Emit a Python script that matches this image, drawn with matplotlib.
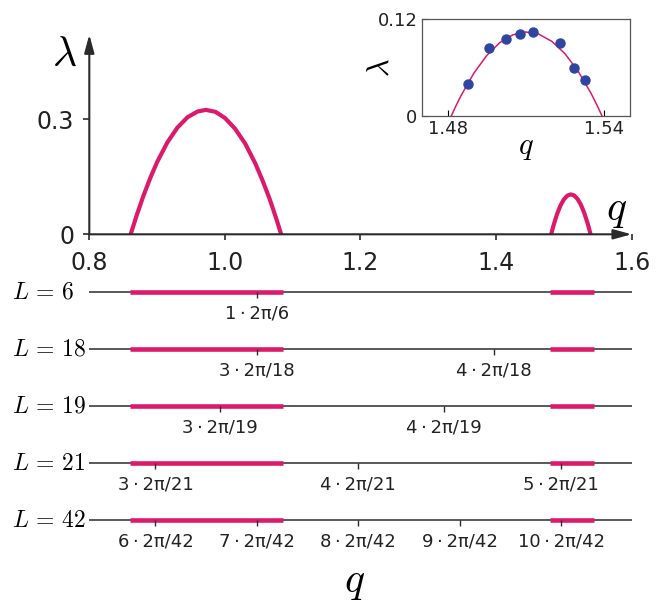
import matplotlib.pyplot as plt
import numpy as np

plt.rcParams['mathtext.fontset'] = 'cm'
plt.rcParams['font.family'] = 'DejaVu Sans'

# growth rate lambda(q)
q_main = [0.861, 0.870, 0.880, 0.890, 0.900, 0.915, 0.930, 0.945, 0.960, 0.972,
          0.986, 1.000, 1.015, 1.030, 1.045, 1.056, 1.066, 1.075, 1.083]
lam_main = [0.0, 0.050, 0.101, 0.147, 0.188, 0.239, 0.278, 0.305, 0.320, 0.324,
            0.319, 0.303, 0.275, 0.236, 0.184, 0.138, 0.092, 0.045, 0.0]

q_side = [1.4813, 1.483, 1.485, 1.490, 1.495, 1.500, 1.505, 1.510, 1.515,
          1.520, 1.525, 1.530, 1.535, 1.5375, 1.5393]
lam_side = [0.0, 0.0118, 0.0249, 0.0530, 0.0751, 0.0909, 0.1005, 0.1040, 0.1013,
            0.0924, 0.0773, 0.0560, 0.0286, 0.0125, 0.0]

# simulation points in the inset
q_sim = [1.4877, 1.4957, 1.5023, 1.5078, 1.5126, 1.5232, 1.5284, 1.5327]
lam_sim = [0.040, 0.084, 0.095, 0.101, 0.104, 0.090, 0.060, 0.045]

# unstable bands and allowed modes k*2pi/L
bands = [(0.860, 1.085), (1.479, 1.545)]
sizes = [6, 18, 19, 21, 42]
modes = [[1], [3, 4], [3, 4], [3, 4, 5], [6, 7, 8, 9, 10]]

pink = '#dc1a6c'
blue = '#2f45a0'
dark = '#2b2b2b'

fig = plt.figure(figsize=(6.62, 6.02), dpi=100)

# ---- main panel
ax = fig.add_axes([0.1349, 0.6108, 0.8193, 0.3317])
ax.plot(q_main, lam_main, color=pink, lw=3)
ax.plot(q_side, lam_side, color=pink, lw=3)
ax.set_xlim(0.8, 1.6)
ax.set_ylim(0, 0.52)
for s in ax.spines.values():
    s.set_visible(False)
arrow = dict(arrowstyle='-|>,head_length=1.1,head_width=0.3', color=dark,
             lw=1.5, shrinkA=0, shrinkB=0)
ax.annotate('', xy=(1.6, 0), xytext=(0.8, 0), arrowprops=arrow, annotation_clip=False)
ax.annotate('', xy=(0.8, 0.52), xytext=(0.8, 0), arrowprops=arrow, annotation_clip=False)
ax.set_xticks([0.8, 1.0, 1.2, 1.4, 1.6])
ax.set_xticklabels(['0.8', '1.0', '1.2', '1.4', '1.6'])
ax.set_yticks([0, 0.3])
ax.set_yticklabels(['0', '0.3'])
ax.tick_params(labelsize=17, length=4, width=1.2, color=dark, labelcolor='#222')
ax.tick_params(axis='x', pad=8)
ax.tick_params(axis='y', pad=7)
ax.text(0.764, 0.47, r'$\lambda$', fontsize=30, ha='center', va='center')
ax.text(1.578, 0.066, r'$q$', fontsize=30, ha='center', va='center')

# ---- inset
ins = fig.add_axes([0.637, 0.8068, 0.3147, 0.1616])
ins.plot(q_side, lam_side, color=pink, lw=1.1)
ins.plot(q_sim, lam_sim, 'o', color=blue, ms=6.5)
ins.set_xlim(1.47, 1.55)
ins.set_ylim(0, 0.12)
ins.set_xticks([1.48, 1.54])
ins.set_xticklabels(['1.48', '1.54'])
ins.set_yticks([0, 0.12])
ins.set_yticklabels(['0', '0.12'])
ins.tick_params(direction='in', length=4, labelsize=13, pad=3, labelcolor='#222')
for s in ins.spines.values():
    s.set_color('#555555')
    s.set_linewidth(0.9)
ins.set_xlabel(r'$q$', fontsize=22, labelpad=-4)
ins.set_ylabel(r'$\lambda$', fontsize=22)
ins.yaxis.set_label_coords(-0.13, 0.5)

# ---- lower panel: allowed wavenumbers for each L
low = fig.add_axes([0.1349, 0.1173, 0.8193, 0.4166])
low.set_xlim(0.8, 1.6)
low.set_ylim(4.2, -0.2)
low.axis('off')
for i, (L, ks) in enumerate(zip(sizes, modes)):
    low.hlines(i, 0.8, 1.6, color=dark, lw=1.1)
    for a, b in bands:
        low.hlines(i, a, b, color=pink, lw=3.3)
    for k in ks:
        qk = k * 2 * np.pi / L
        low.vlines(qk, i, i + 0.11, color=dark, lw=1.0)
        low.text(qk, i + 0.37, f'{k}\u2009·\u20092π/{L}', fontsize=13, ha='center',
                 va='center', color='#222')
    low.text(0.686, i, rf'$L\,=\,{L}$', fontsize=17, ha='left', va='center')

fig.text(0.535, 0.035, r'$q$', fontsize=30, ha='center', va='center')

fig.savefig('out.png', dpi=100)
